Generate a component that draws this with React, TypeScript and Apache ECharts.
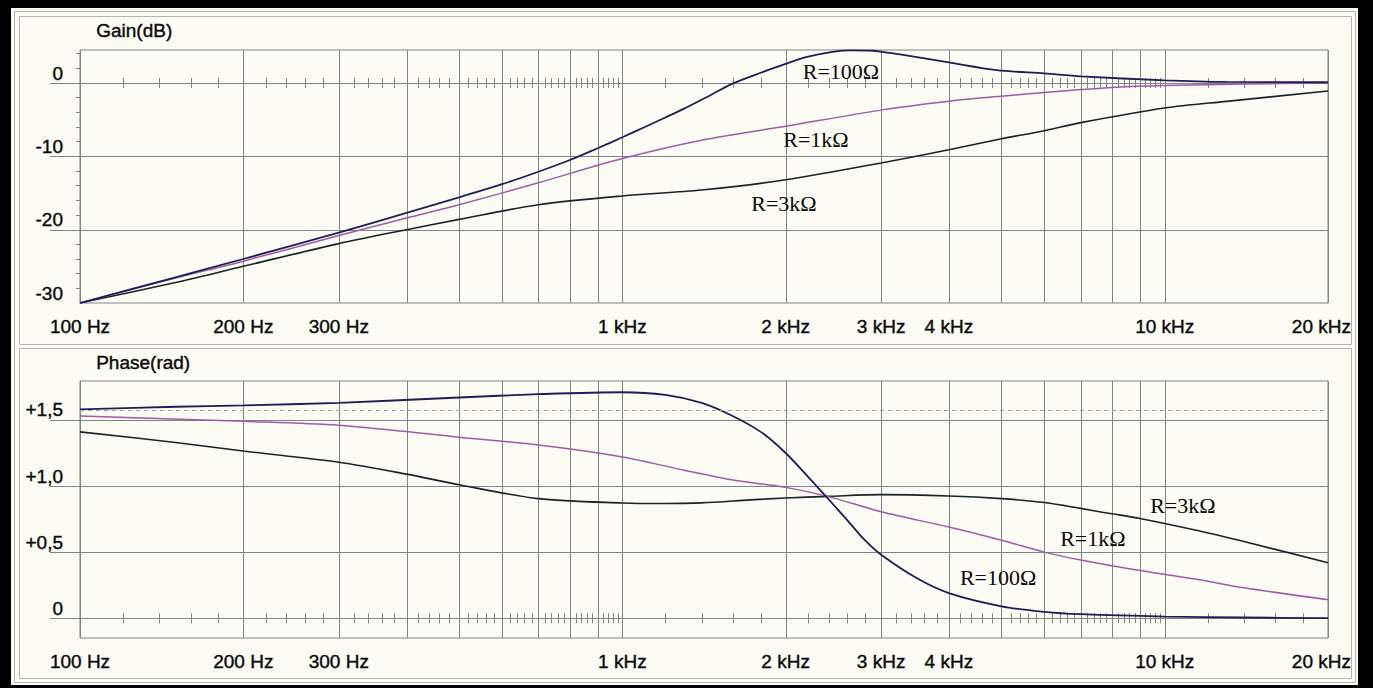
import React, { useEffect, useRef } from 'react';
import * as echarts from 'echarts';

// ---------- axes / ticks ----------
const F_MIN = 100;
const F_MAX = 20000;
const GAIN_MIN = -30;
const GAIN_MAX = 4.5;
const PHASE_MIN = -0.15;
const PHASE_MAX = 1.795;

const gridFreqs = [100, 200, 300, 400, 500, 600, 700, 800, 900, 1000, 2000, 3000, 4000, 5000, 6000, 7000, 8000, 9000, 10000, 20000];
const xLabelFreqs = [100, 200, 300, 1000, 2000, 3000, 4000, 10000, 20000];
const gainGridValues = [0, -10, -20];
const gainLabelValues = [0, -10, -20, -30];
const phaseGridValues = [0, 0.5, 1, 1.5];
const phaseLabelValues = [0, 0.5, 1, 1.5];
const phaseRefValue = Math.PI / 2;

// ---------- gain (dB) ----------
const gainFreqR100 = [100, 150, 200, 300, 400, 500, 600, 700, 800, 900, 1000, 1100, 1200, 1300, 1450, 1600, 1800, 2000, 2190, 2440, 2650, 2900, 3000, 3250, 4000, 4900, 6000, 7000, 10000, 13000, 20000];
const gainR100 = [-30, -26.5, -24.0, -20.4, -17.7, -15.6, -13.8, -12.1, -10.5, -8.9, -7.4, -6.0, -4.7, -3.5, -1.7, -0.05, 1.4, 2.6, 3.55, 4.25, 4.45, 4.4, 4.25, 3.9, 2.8, 1.75, 1.3, 0.9, 0.37, 0.15, 0.1];

const gainFreqR1k = [100, 150, 200, 300, 400, 500, 700, 1000, 1400, 2000, 3000, 4000, 5000, 6000, 7000, 8000, 10000, 14000, 20000];
const gainR1k = [-30, -26.6, -24.3, -20.8, -18.4, -16.6, -13.6, -10.3, -7.8, -5.9, -3.7, -2.5, -1.8, -1.3, -0.9, -0.6, -0.35, -0.15, 0];

const gainFreqR3k = [100, 150, 200, 300, 400, 500, 700, 1000, 1400, 2000, 3000, 4000, 5000, 6000, 7000, 10000, 13000, 20000];
const gainR3k = [-30, -27.2, -25.0, -21.9, -20.0, -18.6, -16.6, -15.4, -14.6, -13.2, -10.9, -9.1, -7.6, -6.5, -5.4, -3.4, -2.5, -1.1];

// ---------- phase (rad) ----------
const phaseFreqR100 = [100, 150, 200, 300, 500, 700, 1000, 1200, 1400, 1580, 1800, 2000, 2200, 2400, 2600, 2800, 3000, 3500, 4000, 5000, 6000, 7000, 10000, 14000, 20000];
const phaseR100 = [1.58, 1.6, 1.61, 1.63, 1.67, 1.695, 1.71, 1.69, 1.63, 1.54, 1.41, 1.25, 1.07, 0.9, 0.74, 0.59, 0.48, 0.3, 0.19, 0.09, 0.048, 0.03, 0.012, 0.005, 0];

const phaseFreqR1k = [100, 200, 300, 500, 700, 1000, 1300, 1600, 2000, 2400, 3000, 4000, 5000, 6000, 7000, 9000, 11600, 14000, 20000];
const phaseR1k = [1.53, 1.49, 1.46, 1.37, 1.31, 1.22, 1.12, 1.045, 0.99, 0.92, 0.805, 0.69, 0.59, 0.5, 0.44, 0.36, 0.29, 0.23, 0.14];

const phaseFreqR3k = [100, 150, 200, 300, 400, 500, 700, 1000, 1200, 1400, 1720, 2000, 2400, 3000, 4000, 5000, 6000, 8000, 9000, 11600, 14000, 20000];
const phaseR3k = [1.41, 1.33, 1.265, 1.18, 1.09, 1.01, 0.905, 0.872, 0.868, 0.873, 0.895, 0.91, 0.922, 0.935, 0.925, 0.905, 0.875, 0.79, 0.755, 0.66, 0.58, 0.42];

// ---------- annotations ----------
const gainNoteTexts = ['R=100Ω', 'R=1kΩ', 'R=3kΩ'];
const gainNoteFreqs = [2530, 2275, 1986];
const gainNoteValues = [1.6, -7.75, -16.4];
const phaseNoteTexts = ['R=3kΩ', 'R=1kΩ', 'R=100Ω'];
const phaseNoteFreqs = [10800, 7370, 4930];
const phaseNoteValues = [0.856, 0.6, 0.31];

// ---------- styles ----------
const IVORY = '#fcfcf5';
const GRID = '#7d8585';
const FRAME = '#b4b4b4';
const TEXT = '#0a0a0a';
const LABEL_FONT = '19px "Liberation Sans", Arial, sans-serif';
const NOTE_FONT = '22px "Liberation Serif", "Times New Roman", serif';
const C100 = '#1d1d5c';
const C1K = '#a05aa8';
const C3K = '#142626';

const minorFreqs: number[] = [];
for (let i = 0; i < gridFreqs.length - 1; i++) {
  const a = gridFreqs[i];
  const b = gridFreqs[i + 1];
  for (let k = 1; k < 5; k++) minorFreqs.push(a + ((b - a) * k) / 5);
}

const fmtFreq = (f: number) => (f >= 1000 ? `${f / 1000} kHz` : `${f} Hz`);
const fmtGain = (v: number) => `${v}`;
const fmtPhase = (v: number) => (v === 0 ? '0' : '+' + v.toFixed(1).replace('.', ','));

const labelStyle = (text: string, align: string) => ({
  text,
  font: LABEL_FONT,
  fill: TEXT,
  stroke: TEXT,
  lineWidth: 0.4,
  align,
  verticalAlign: 'middle',
});

function decorSeries(idx: number, yMin: number, yMax: number, hVals: number[], labVals: number[], fmt: (v: number) => string) {
  const base = { type: 'custom', xAxisIndex: idx, yAxisIndex: idx, silent: true, clip: false, z: 1 };
  return [
    {
      ...base,
      data: gridFreqs.map((f) => [f, yMin]),
      renderItem: (params: any, api: any) => {
        const f = api.value(0);
        const a = api.coord([f, yMin]);
        const b = api.coord([f, yMax]);
        const x = Math.round(a[0]) + 0.5;
        return { type: 'line', shape: { x1: x, y1: a[1], x2: x, y2: b[1] }, style: { stroke: GRID, lineWidth: 1 } };
      },
    },
    {
      ...base,
      data: minorFreqs.map((f) => [f, 0]),
      renderItem: (params: any, api: any) => {
        const p = api.coord([api.value(0), 0]);
        const x = Math.round(p[0]) + 0.5;
        return { type: 'line', shape: { x1: x, y1: p[1] - 5, x2: x, y2: p[1] + 5 }, style: { stroke: GRID, lineWidth: 1 } };
      },
    },
    {
      ...base,
      data: hVals.map((v) => [F_MIN, v]),
      renderItem: (params: any, api: any) => {
        const v = api.value(1);
        const a = api.coord([F_MIN, v]);
        const b = api.coord([F_MAX, v]);
        const y = Math.round(a[1]) + 0.5;
        return { type: 'line', shape: { x1: a[0] - 30, y1: y, x2: b[0], y2: y }, style: { stroke: GRID, lineWidth: 1 } };
      },
    },
    {
      ...base,
      data: labVals.map((v) => [F_MIN, v]),
      renderItem: (params: any, api: any) => {
        const v = api.value(1);
        const a = api.coord([F_MIN, v]);
        return { type: 'text', x: a[0] - 17, y: a[1] - 10, style: labelStyle(fmt(v), 'right') };
      },
    },
    {
      ...base,
      data: xLabelFreqs.map((f) => [f, yMin]),
      renderItem: (params: any, api: any) => {
        const f = api.value(0);
        const p = api.coord([f, yMin]);
        const last = f >= F_MAX;
        return { type: 'text', x: last ? p[0] + 23 : p[0], y: p[1] + 23, style: labelStyle(fmtFreq(f), last ? 'right' : 'center') };
      },
    },
  ];
}

function noteSeries(idx: number, texts: string[], freqs: number[], vals: number[]) {
  return {
    type: 'custom',
    xAxisIndex: idx,
    yAxisIndex: idx,
    silent: true,
    clip: false,
    z: 6,
    data: freqs.map((f, i) => [f, vals[i]]),
    renderItem: (params: any, api: any) => {
      const p = api.coord([api.value(0), api.value(1)]);
      return {
        type: 'text',
        x: p[0],
        y: p[1],
        style: { text: texts[params.dataIndex], font: NOTE_FONT, fill: TEXT, align: 'center', verticalAlign: 'middle' },
      };
    },
  };
}

function curve(idx: number, name: string, freqs: number[], vals: number[], color: string, width: number) {
  return {
    type: 'line',
    name,
    xAxisIndex: idx,
    yAxisIndex: idx,
    silent: true,
    symbol: 'none',
    showSymbol: false,
    smooth: 0.3,
    z: 4,
    lineStyle: { color, width },
    data: freqs.map((f, i) => [f, vals[i]]),
  };
}

const xAxisBase = {
  type: 'log',
  logBase: 10,
  min: F_MIN,
  max: F_MAX,
  axisLine: { show: false },
  axisTick: { show: false },
  axisLabel: { show: false },
  splitLine: { show: false },
};

const option: any = {
  animation: false,
  backgroundColor: 'transparent',
  grid: [
    { left: 80, top: 50, width: 1248, height: 253, show: true, borderColor: GRID, borderWidth: 1, backgroundColor: 'transparent' },
    { left: 80, top: 381, width: 1248, height: 257, show: true, borderColor: GRID, borderWidth: 1, backgroundColor: 'transparent' },
  ],
  xAxis: [
    { ...xAxisBase, gridIndex: 0 },
    { ...xAxisBase, gridIndex: 1 },
  ],
  yAxis: [
    {
      type: 'value',
      gridIndex: 0,
      min: GAIN_MIN,
      max: GAIN_MAX,
      interval: 10,
      axisLine: { show: false },
      axisTick: { show: false },
      axisLabel: { show: false },
      splitLine: { show: false },
      minorTick: { show: true, splitNumber: 5, length: 4, lineStyle: { color: GRID, width: 1 } },
    },
    {
      type: 'value',
      gridIndex: 1,
      min: PHASE_MIN,
      max: PHASE_MAX,
      axisLine: { show: false },
      axisTick: { show: false },
      axisLabel: { show: false },
      splitLine: { show: false },
    },
  ],
  graphic: [
    { type: 'rect', silent: true, shape: { x: 14.5, y: 11.5, width: 1341, height: 671 }, style: { fill: 'none', stroke: FRAME, lineWidth: 1 } },
    { type: 'rect', silent: true, shape: { x: 19.5, y: 16.5, width: 1332, height: 328 }, style: { fill: 'none', stroke: FRAME, lineWidth: 1 } },
    { type: 'rect', silent: true, shape: { x: 19.5, y: 348.5, width: 1332, height: 330 }, style: { fill: 'none', stroke: FRAME, lineWidth: 1 } },
    { type: 'text', silent: true, left: 96, top: 21, style: { text: 'Gain(dB)', font: LABEL_FONT, fill: TEXT, stroke: TEXT, lineWidth: 0.4 } },
    { type: 'text', silent: true, left: 96, top: 353, style: { text: 'Phase(rad)', font: LABEL_FONT, fill: TEXT, stroke: TEXT, lineWidth: 0.4 } },
  ],
  series: [
    ...decorSeries(0, GAIN_MIN, GAIN_MAX, gainGridValues, gainLabelValues, fmtGain),
    ...decorSeries(1, PHASE_MIN, PHASE_MAX, phaseGridValues, phaseLabelValues, fmtPhase),
    curve(0, 'R=3kΩ', gainFreqR3k, gainR3k, C3K, 1.6),
    curve(0, 'R=1kΩ', gainFreqR1k, gainR1k, C1K, 1.5),
    curve(0, 'R=100Ω', gainFreqR100, gainR100, C100, 1.8),
    {
      ...curve(1, 'R=3kΩ', phaseFreqR3k, phaseR3k, C3K, 1.6),
      markLine: {
        silent: true,
        symbol: 'none',
        label: { show: false },
        lineStyle: { color: '#9aa2a2', type: [4, 4], width: 1 },
        data: [{ yAxis: phaseRefValue }],
      },
    },
    curve(1, 'R=1kΩ', phaseFreqR1k, phaseR1k, C1K, 1.5),
    curve(1, 'R=100Ω', phaseFreqR100, phaseR100, C100, 1.8),
    noteSeries(0, gainNoteTexts, gainNoteFreqs, gainNoteValues),
    noteSeries(1, phaseNoteTexts, phaseNoteFreqs, phaseNoteValues),
  ],
};

export default function App() {
  const ref = useRef<HTMLDivElement>(null);
  useEffect(() => {
    if (!ref.current) return;
    const chart = echarts.init(ref.current, null, { renderer: 'svg' });
    chart.setOption(option);
    return () => chart.dispose();
  }, []);
  return (
    <div style={{ position: 'fixed', left: 0, top: 0, width: 1373, height: 688, background: '#000', overflow: 'hidden' }}>
      <div style={{ position: 'absolute', left: 11, top: 8, width: 1347, height: 677, background: IVORY }} />
      <div ref={ref} style={{ position: 'absolute', left: 0, top: 0, width: 1373, height: 688 }} />
    </div>
  );
}
